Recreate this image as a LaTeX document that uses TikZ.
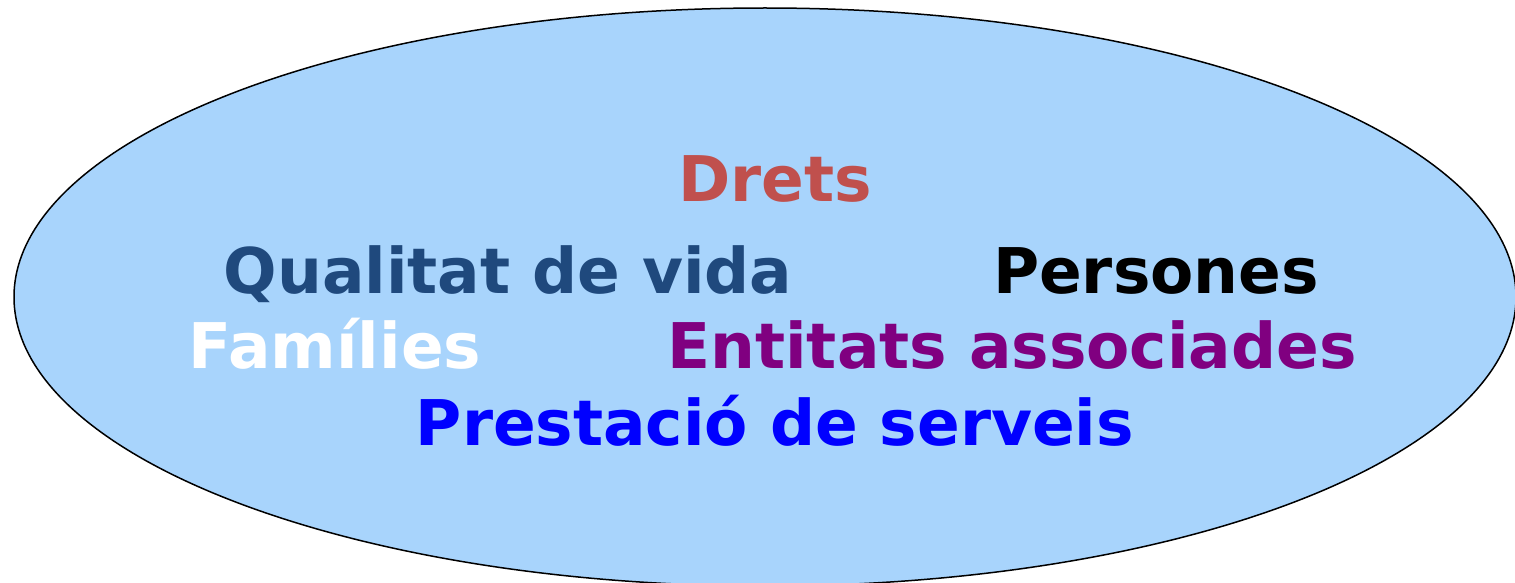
\documentclass[tikz,border=0pt]{standalone}
\usepackage{fontspec}
\setmainfont{DejaVu Sans}
\usepackage[usenames,svgnames,dvipsnames]{xcolor}
\definecolor{cloudfill}{HTML}{A8D4FC}
\definecolor{dretscol}{HTML}{C0504D}
\definecolor{qualcol}{HTML}{1F497D}
\definecolor{entcol}{HTML}{800080}
\definecolor{prestcol}{HTML}{0000FF}

\begin{document}
\begin{tikzpicture}[x=0.5pt,y=-0.5pt,
		word/.style={inner sep=0pt, anchor=base, font=\fontsize{31.5pt}{36pt}\selectfont\bfseries}]
		\clip (0,0) rectangle (1515,583);
		\useasboundingbox (0,0) rectangle (1515,583);
		\draw[fill=cloudfill, line width=0.75pt] (765,297) ellipse [x radius=751, y radius=289];
		\node[word, text=dretscol] (drets) at (775,201) {Drets};
		\node[word, text=qualcol] (qualitat) at (508,293) {Qualitat de vida};
		\node[word, text=black] (persones) at (1156,293) {Persones};
		\node[word, text=white] (families) at (335,368) {Famílies};
		\node[word, text=entcol] (entitats) at (1012,368) {Entitats associades};
		\node[word, text=prestcol] (prestacio) at (775,445) {Prestació de serveis};
	\end{tikzpicture}
\end{document}
